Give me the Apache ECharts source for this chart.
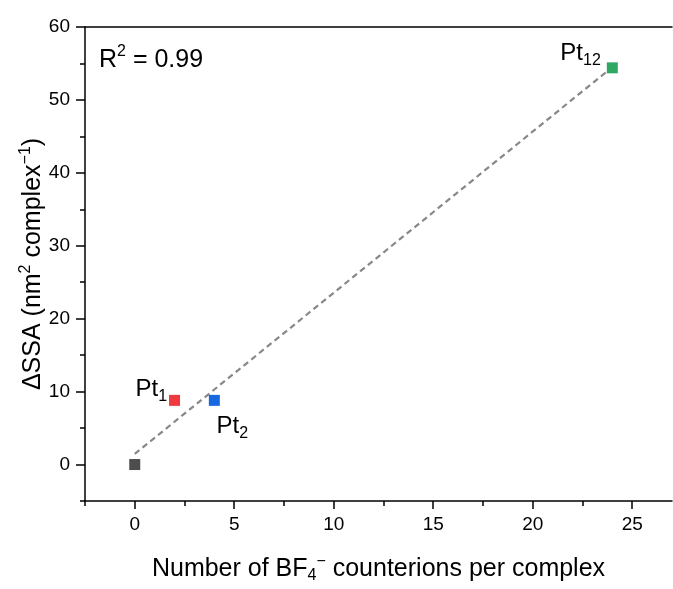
<!DOCTYPE html>
<html>
<head>
<meta charset="utf-8">
<script src="https://cdn.jsdelivr.net/npm/echarts@6/dist/echarts.min.js"></script>
<style>
html,body{margin:0;padding:0;background:#fff;}
#chart{width:673px;height:589px;}
</style>
</head>
<body>
<div id="chart"></div>
<script>
// ---- data ----
const pointNames = ['', 'Pt1', 'Pt2', 'Pt12'];
const pointSubs = ['', '1', '2', '12'];
const xValues = [0, 2, 4, 24];
const yValues = [0, 8.8, 8.8, 54.4];
const fitX = [0, 24];
const fitY = [1.45, 54.5];
const xMajorTicks = [0, 5, 10, 15, 20, 25];
const xMinorTicks = [-2.5, 2.5, 7.5, 12.5, 17.5, 22.5];
const yMajorTicks = [0, 10, 20, 30, 40, 50, 60];
const yMinorTicks = [-5, 5, 15, 25, 35, 45, 55];
const rSquaredText = '0.99';

// ---- styles ----
const pointColors = ['#4d4d4d', '#f0393f', '#1668e0', '#2fa863'];
const FONT = 'Liberation Sans, Arial, sans-serif';
const labelPlacement = [
  null,
  {position: 'left', distance: 2, offset: [0, -11]},
  {position: 'bottom', distance: 0, offset: [18, 6]},
  {position: 'left', distance: 6, offset: [0, -14]}
];

const richSub = {
  b: {fontSize: 24, fontFamily: FONT, color: '#000', lineHeight: 30, verticalAlign: 'middle'},
  s: {fontSize: 16, fontFamily: FONT, color: '#000', lineHeight: 30, verticalAlign: 'bottom'}
};

const scatterData = xValues.map((x, i) => {
  const item = {value: [x, yValues[i]], itemStyle: {color: pointColors[i], opacity: 1}};
  if (pointNames[i]) {
    item.label = Object.assign({
      show: true,
      formatter: '{b|Pt}{s|' + pointSubs[i] + '}',
      rich: richSub
    }, labelPlacement[i]);
  }
  return item;
});

const chart = echarts.init(document.getElementById('chart'), null, {renderer: 'canvas'});
const axisLineStyle = {color: '#000', width: 1.5};
const tickLabel = {color: '#000', fontSize: 19, fontFamily: FONT};

chart.setOption({
  animation: false,
  backgroundColor: '#fff',
  grid: {left: 85, top: 27, right: 1, bottom: 79, containLabel: false},
  xAxis: [
    {
      type: 'value', position: 'bottom', min: -2.5, max: 27,
      axisLine: {show: true, onZero: false, lineStyle: axisLineStyle},
      axisTick: {show: true, inside: false, length: 8, lineStyle: axisLineStyle, customValues: xMajorTicks},
      axisLabel: Object.assign({show: true, margin: 14, customValues: xMajorTicks}, tickLabel),
      splitLine: {show: false},
      name: '{n|Number of BF}{s|4}{u|\u2212}{n| counterions per complex}',
      nameLocation: 'middle', nameGap: 53,
      nameTextStyle: {rich: {
        n: {fontSize: 25, fontFamily: FONT, color: '#000', lineHeight: 30},
        s: {fontSize: 16, fontFamily: FONT, color: '#000', lineHeight: 30, verticalAlign: 'bottom'},
        u: {fontSize: 16, fontFamily: FONT, color: '#000', lineHeight: 30, verticalAlign: 'top'}
      }}
    },
    {
      type: 'value', position: 'bottom', min: -2.5, max: 27,
      axisLine: {show: false, onZero: false},
      axisTick: {show: true, inside: false, length: 5, lineStyle: axisLineStyle, customValues: xMinorTicks},
      axisLabel: {show: false},
      splitLine: {show: false}
    },
    {
      type: 'value', position: 'top', min: -2.5, max: 27,
      axisLine: {show: true, onZero: false, lineStyle: axisLineStyle},
      axisTick: {show: false}, axisLabel: {show: false}, splitLine: {show: false}
    }
  ],
  yAxis: [
    {
      type: 'value', position: 'left', min: -5, max: 60,
      axisLine: {show: true, onZero: false, lineStyle: axisLineStyle},
      axisTick: {show: true, inside: false, length: 9, lineStyle: axisLineStyle, customValues: yMajorTicks},
      axisLabel: Object.assign({show: true, margin: 15, customValues: yMajorTicks}, tickLabel),
      splitLine: {show: false},
      name: '{n|\u0394SSA (nm}{u|2}{n| complex}{u|\u22121}{n|)}',
      nameLocation: 'middle', nameGap: 37, nameRotate: 90,
      nameMoveOverlap: false,
      nameTextStyle: {rich: {
        n: {fontSize: 25, fontFamily: FONT, color: '#000', lineHeight: 30},
        u: {fontSize: 16, fontFamily: FONT, color: '#000', lineHeight: 30, verticalAlign: 'top'}
      }}
    },
    {
      type: 'value', position: 'left', min: -5, max: 60,
      axisLine: {show: false, onZero: false},
      axisTick: {show: true, inside: false, length: 5, lineStyle: axisLineStyle, customValues: yMinorTicks},
      axisLabel: {show: false},
      splitLine: {show: false}
    }
  ],
  graphic: [{
    type: 'text', left: 99, top: 44,
    style: {
      text: '{b|R}{u|2}{b| = ' + rSquaredText + '}',
      rich: {
        b: {fontSize: 25, fontFamily: FONT, fill: '#000', lineHeight: 32},
        u: {fontSize: 16, fontFamily: FONT, fill: '#000', lineHeight: 32, verticalAlign: 'top'}
      }
    }
  }],
  series: [
    {
      type: 'line', xAxisIndex: 0, yAxisIndex: 0,
      data: fitX.map((x, i) => [x, fitY[i]]),
      symbol: 'none',
      lineStyle: {color: '#888888', width: 2.2, type: [6, 4]},
      z: 2
    },
    {
      type: 'scatter', xAxisIndex: 0, yAxisIndex: 0,
      symbol: 'rect', symbolSize: 11,
      data: scatterData,
      z: 3
    }
  ]
});
</script>
</body>
</html>
